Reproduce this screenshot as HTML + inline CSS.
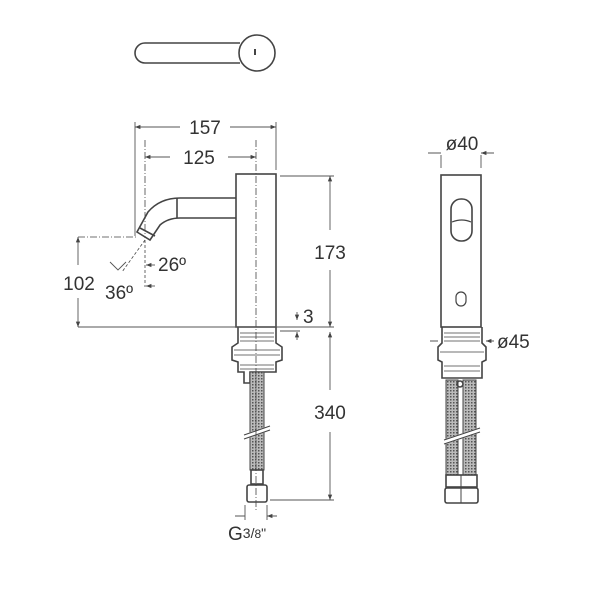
<!DOCTYPE html>
<html><head><meta charset="utf-8"><style>
html,body{margin:0;padding:0;background:#fff;}
svg{display:block;}
text{font-family:"Liberation Sans",Arial,sans-serif;fill:#333;}
</style></head><body>
<svg width="601" height="600" viewBox="0 0 601 600" xmlns="http://www.w3.org/2000/svg">
<defs>
<marker id="a" viewBox="0 0 10 10" refX="10" refY="5" markerWidth="6" markerHeight="6" orient="auto-start-reverse"><path d="M0,1 L10,5 L0,9 z" fill="#444"/></marker>
<pattern id="h" width="3" height="3" patternUnits="userSpaceOnUse"><rect width="3" height="3" fill="#bbb"/><rect width="1.5" height="1.5" fill="#555"/></pattern>
</defs>
<g fill="none" stroke="#444" stroke-width="1.6">
<!-- top view -->
<path d="M240,43 L145,43 A10,10 0 0 0 145,63 L240,63"/>
<circle cx="257" cy="53" r="18"/>
<path d="M255,49 v6" stroke-width="2"/>
<!-- side body -->
<rect x="236" y="174" width="40" height="153"/>
<path d="M236,198 L180,198 Q160,198 148,212 L137,232 L150,240 L160,225 Q168,218 180,218 L236,218"/>
<path d="M177,198 v20"/>
<path d="M140,228 L155,236"/>
<!-- side lower -->
<path d="M238,327 L238,343 L232,347 L232,360 L238,362 L238,372 L244,372 L244,383 L250,383 L250,372 L276,372 L276,362 L282,360 L282,347 L276,343 L276,327"/>
<path d="M240,333 h34 M240,337 h34 M240,341 h34 M234,350 h46 M234,355 h46 M240,365 h34 M240,369 h34" stroke-width="0.8"/>
<rect x="250" y="372" width="14" height="98" fill="url(#h)" stroke-width="1"/>
<path d="M244,437 L270,428" stroke="#fff" stroke-width="5"/>
<path d="M244,439 L270,430 M244,435 L270,426" stroke-width="1"/>
<rect x="251" y="470" width="12" height="14"/>
<rect x="247" y="485" width="20" height="17" rx="2"/>
<!-- centre line -->
<path d="M256,140 V510" stroke-width="0.8" stroke-dasharray="7,2,1,2"/>
<path d="M145,140 V238 M78,237 H138" stroke-width="0.8" stroke-dasharray="7,2,1,2"/>
<path d="M145,240 L122,272 M145,240 V287" stroke-width="0.8" stroke-dasharray="3,2"/>
</g>
<g stroke="#555" stroke-width="0.9" fill="none">
<!-- dims -->
<path d="M135,122 V236 M276,122 V170"/>
<path d="M135,127 H180 M230,127 H276" marker-start="url(#a)" marker-end="url(#a)"/>
<path d="M145,157 H170 M228,157 H256" marker-start="url(#a)" marker-end="url(#a)"/>
<path d="M280,176 H334 M78,327 H334 M270,500 H334"/>
<path d="M330,176 V230" marker-start="url(#a)"/>
<path d="M330,270 V327" marker-end="url(#a)"/>
<path d="M330,332 V390" marker-start="url(#a)"/>
<path d="M330,432 V500" marker-end="url(#a)"/>
<path d="M78,237 V265" marker-start="url(#a)"/>
<path d="M78,298 V327" marker-end="url(#a)"/>
<path d="M297,312 V320" marker-end="url(#a)"/>
<path d="M297,340 V332" marker-end="url(#a)"/>
<path d="M280,331 H300"/>
<path d="M155,265 L146,265" marker-end="url(#a)"/>
<path d="M155,286 L146,286" marker-end="url(#a)"/>
<path d="M110,262 L118,270 L126,262"/>
<path d="M245,505 V520 M267,505 V520"/>
<path d="M235,516 H245 M277,516 H267" marker-end="url(#a)"/>
</g>
<text x="205" y="134" font-size="19" text-anchor="middle">157</text>
<text x="199" y="164" font-size="19" text-anchor="middle">125</text>
<text x="330" y="259" font-size="19" text-anchor="middle">173</text>
<text x="330" y="419" font-size="19" text-anchor="middle">340</text>
<text x="79" y="290" font-size="19" text-anchor="middle">102</text>
<text x="158" y="271" font-size="19">26º</text>
<text x="105" y="299" font-size="19">36º</text>
<text x="303" y="323" font-size="19">3</text>
<text x="228" y="540" font-size="19">G<tspan font-size="14" dy="-2">3</tspan><tspan font-size="14">/</tspan><tspan font-size="12">8</tspan><tspan font-size="14">"</tspan></text>
<!-- right view -->
<g fill="none" stroke="#444" stroke-width="1.6">
<rect x="441" y="175" width="40" height="152"/>
<rect x="451" y="199" width="21" height="42" rx="10"/>
<path d="M452,222 Q462,218 471,222" stroke-width="1.2"/>
<rect x="456" y="292" width="10" height="14" rx="5" stroke-width="1.2"/>
<path d="M442,327 L442,343 L438,347 L438,360 L442,362 L442,378 L482,378 L482,362 L486,360 L486,347 L482,343 L482,327"/>
<path d="M444,333 h36 M444,337 h36 M444,341 h36 M440,352 h44 M444,366 h36 M444,371 h36" stroke-width="0.8"/>
<rect x="446" y="380" width="12" height="95" fill="url(#h)" stroke-width="1"/>
<rect x="463" y="380" width="13" height="95" fill="url(#h)" stroke-width="1"/>
<circle cx="460" cy="384" r="3"/>
<path d="M444,442 L480,430" stroke="#fff" stroke-width="5"/>
<path d="M444,444 L480,432 M444,440 L480,428" stroke-width="1"/>
<rect x="446" y="475" width="31" height="12"/>
<rect x="445" y="488" width="33" height="15" rx="2"/>
<path d="M461,475 V503" stroke-width="1"/>
</g>
<g stroke="#555" stroke-width="0.9" fill="none">
<path d="M441,155 V168 M481,155 V168"/>
<path d="M428,153 H441 M494,153 H481" marker-end="url(#a)"/>
<path d="M430,341 H438 M494,341 H486" marker-end="url(#a)"/>
</g>
<text x="462" y="150" font-size="19" text-anchor="middle">ø40</text>
<text x="497" y="348" font-size="19">ø45</text>
</svg>
</body></html>
